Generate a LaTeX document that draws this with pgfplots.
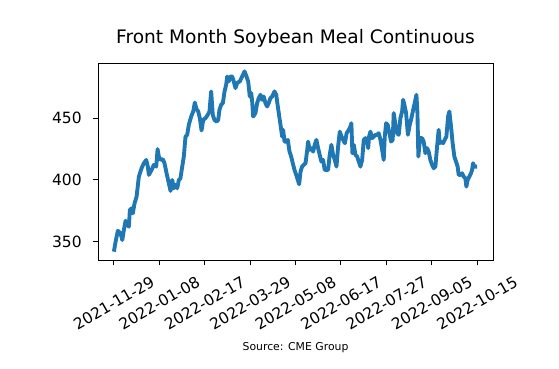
\documentclass[border=0pt]{standalone}
\usepackage{pgfplots}
\pgfplotsset{compat=1.18}
\usepackage{fontspec}
\setmainfont{DejaVu Sans}
\definecolor{mplblue}{HTML}{1F77B4}
\begin{document}
\begin{tikzpicture}
\useasboundingbox (-63bp,-69.4bp) rectangle (296.4bp,167.2bp);
\begin{axis}[
  scale only axis, width=254bp, height=126.7bp,
  at={(0,0)}, anchor=south west,
  xmin=-14, xmax=334, ymin=335.2, ymax=494.6,
  xtick={0,40,80,120,160,200,240,280,320},
  xticklabels={2021-11-29,2022-01-08,2022-02-17,2022-03-29,2022-05-08,2022-06-17,2022-07-27,2022-09-05,2022-10-15},
  ytick={350,400,450},
  xtick pos=bottom, ytick pos=left,
  tick align=outside, major tick length=3.5pt,
  tick style={black, line width=0.6pt},
  axis line style={black, line width=0.6pt},
  /pgf/number format/assume math mode=true,
  ticklabel style={font=\fontsize{10}{12}\selectfont},
  xticklabel style={yshift=-24.2pt, rotate=30, anchor=center},
  yticklabel style={anchor=east, xshift=-3.5pt},
  title={Front Month Soybean Meal Continuous},
  title style={font=\fontsize{12}{14}\selectfont, at={(0.5,1)}, anchor=base, yshift=6.4pt},
  xlabel={Source: CME Group},
  xlabel style={font=\fontsize{7}{8}\selectfont, at={(axis description cs:0.5,0)}, anchor=base, yshift=-58.5pt},
]
\addplot[mplblue, line width=2.5pt, line join=round] coordinates {
(0,342) (1.5,350) (3.5,358.9) (5.9,356.8) (7.4,351.4) (8.8,359.5) (10.3,367.0) (11.8,364.3) (13.2,362.2) (14.1,375.7) (15.6,377.1) (16.7,373.0) (18.2,381.1) (20.0,386.5) (22.0,402.7) (24.4,409.5) (26.4,413.5) (28.5,416.2) (29.9,410.8) (30.8,404.1) (33.2,408.1) (35.2,412.2) (37.3,410.8) (38.5,424.9) (39.6,418.9) (41.1,416.2) (43.1,416.8) (44.6,413.5) (46.4,405.4) (48.4,397.3) (49.9,391.1) (51.4,400.0) (52.8,393.3) (54.3,396.0) (55.8,393.3) (57.2,400.0) (58.6,401.2) (60.2,410.8) (61.6,418.9) (63.1,435.1) (64.6,436.5) (66.0,444.6) (68.1,451.3) (69.9,455.4) (71.3,462.6) (72.8,457.3) (74.3,455.4) (75.7,450.0) (77.2,440.0) (78.7,448.6) (80.7,450.0) (82.7,452.7) (84.2,455.4) (85.7,471.6) (87.1,452.7) (88.6,448.6) (90.4,447.2) (91.9,448.6) (93.0,456.7) (94.5,460.8) (96.0,462.2) (97.5,471.6) (98.9,477.0) (99.8,483.7) (101.2,479.7) (102.7,483.7) (104.2,483.7) (105.6,479.7) (107.1,474.3) (108.6,478.4) (110.9,479.7) (113.0,483.7) (115.1,487.8) (116.8,483.7) (118.3,479.7) (119.7,467.5) (121.0,470.3) (121.8,463.5) (122.7,451.3) (124.7,454.1) (126.2,462.2) (127.6,466.2) (129.1,468.9) (130.6,464.8) (132.0,467.5) (133.5,462.2) (135.0,459.4) (136.4,462.2) (137.9,466.2) (139.4,467.5) (141.5,471.6) (143.0,468.9) (144.4,459.4) (145.9,450.0) (147.4,440.5) (148.2,435.1) (149.1,440.5) (150.3,431.0) (151.8,431.0) (153.2,432.4) (154.7,422.9) (156.2,418.9) (157.6,413.5) (159.1,408.1) (160.6,404.1) (162.0,400.0) (163.2,396.5) (164.4,406.7) (165.8,410.8) (167.3,412.2) (168.8,413.5) (170.3,424.3) (171.1,431.0) (172.5,424.3) (174.0,425.7) (175.5,422.9) (176.9,428.4) (178.4,432.4) (179.9,425.7) (181.3,420.3) (182.8,414.8) (184.3,416.2) (185.7,408.1) (187.2,408.1) (188.7,408.1) (190.1,420.3) (191.6,428.4) (193.1,420.3) (194.6,416.2) (196.1,410.8) (197.5,427.0) (199.0,439.1) (200.5,435.1) (202.0,432.4) (203.5,429.7) (205.0,437.8) (206.9,440.5) (208.4,443.2) (209.2,445.9) (210.1,421.6) (211.3,428.4) (212.8,420.3) (214.3,418.9) (215.7,414.8) (217.2,410.8) (218.7,416.2) (220.1,432.4) (221.6,433.8) (223.1,432.4) (224.0,425.7) (224.8,435.1) (226.0,439.1) (227.5,433.8) (228.9,435.1) (230.4,436.5) (231.9,436.5) (233.3,437.8) (234.8,432.4) (236.3,424.3) (237.7,416.2) (238.6,435.1) (239.8,445.9) (241.2,444.6) (242.7,437.8) (244.2,431.0) (245.6,432.4) (246.5,454.1) (248.0,444.6) (249.5,437.8) (250.9,436.5) (252.4,450.0) (253.9,455.4) (254.8,464.8) (255.9,460.8) (257.4,454.1) (259.0,436.5) (260.6,444.6) (262.1,450.0) (263.6,456.7) (265.0,462.2) (266.5,468.9) (267.4,454.1) (268.2,418.9) (269.7,433.8) (271.5,433.8) (272.9,431.0) (274.4,421.6) (275.9,425.7) (277.3,422.9) (278.8,416.2) (280.3,412.2) (281.7,409.5) (283.2,410.8) (284.7,427.0) (286.1,440.5) (287.0,429.7) (288.5,431.0) (290.0,429.7) (291.4,432.4) (292.9,435.1) (294.4,451.3) (295.5,455.4) (297.0,443.2) (298.4,429.7) (299.9,418.9) (301.4,414.8) (302.8,410.8) (303.7,404.1) (305.2,404.1) (306.7,405.4) (308.1,402.7) (309.6,401.4) (310.5,394.6) (311.6,400.0) (313.1,402.7) (314.6,405.4) (315.5,408.1) (316.4,413.5) (317.5,410.8) (319.0,410.8) (319.9,410.8)
};
\end{axis}
\end{tikzpicture}
\end{document}
